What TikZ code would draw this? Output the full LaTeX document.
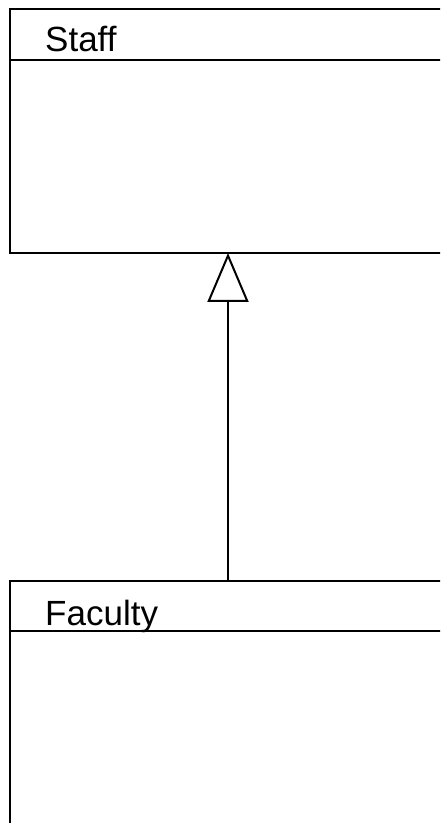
\documentclass[tikz,border=0pt]{standalone}
\usepackage{fontspec}
\setmainfont{Liberation Sans}
\usetikzlibrary{positioning,arrows.meta}
\tikzset{
  classbox/.style={draw, line width=2pt, fill=white, minimum width=436pt, inner sep=0pt, outer sep=0pt, anchor=north west},
  classname/.style={inner sep=0pt, anchor=base west, font=\fontsize{35}{42}\selectfont},
  sepline/.style={line width=2pt},
  inherit/.style={-{Triangle[open, length=49pt, width=41pt, line width=2pt]}, line width=2pt}
}
\begin{document}
\begin{tikzpicture}[x=1pt, y=1pt]
      \clip (0,0) rectangle (440,823);
      \fill[white] (0,0) rectangle (440,823);
      % superclass
      \node[classbox, minimum height=244pt] (staff) at (10,814) {};
      \node[classname] (staffname) at (45,771) {Staff};
      \draw[sepline] (staff.west |- 0,763) -- (staff.east |- 0,763);
      % subclass
      \node[classbox, minimum height=262pt] (faculty) at (10,242) {};
      \node[classname] (facultyname) at (45,197) {Faculty};
      \draw[sepline] (faculty.west |- 0,192) -- (faculty.east |- 0,192);
      \draw[inherit] (faculty.north) -- (staff.south);
\end{tikzpicture}
\end{document}
